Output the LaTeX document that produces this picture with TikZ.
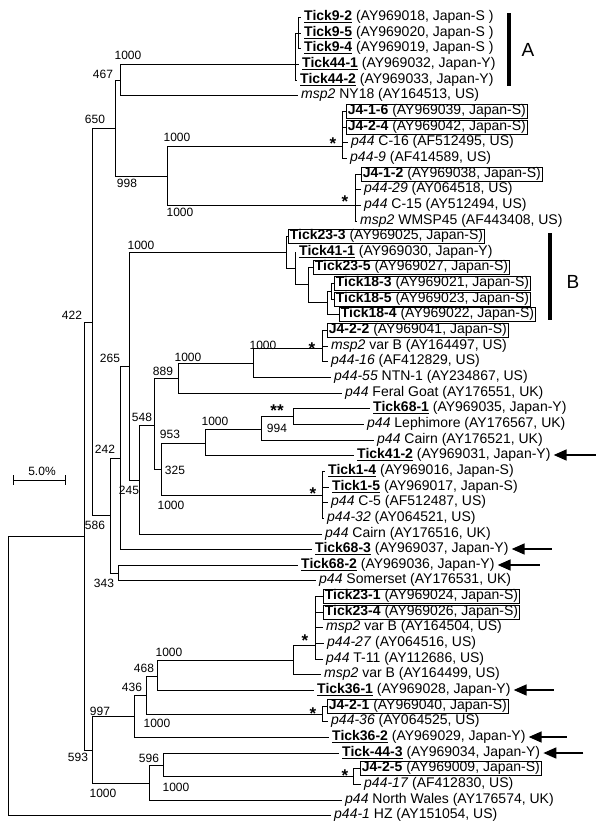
\documentclass[tikz,border=0pt]{standalone}
\usepackage{fontspec}
\setmainfont{Liberation Sans}
\usetikzlibrary{calc,arrows.meta}
\newcommand{\tk}[1]{\textbf{\underline{#1}}}
\tikzset{
  tip/.style={anchor=west,inner xsep=3pt,inner ysep=0pt,text height=10pt,text depth=3pt,font=\fontsize{14}{14}\selectfont},
  boxtip/.style={tip,draw,line width=0.8pt,inner xsep=1.5pt,inner ysep=0.5pt},
  boot/.style={inner sep=0pt,font=\fontsize{12}{12}\selectfont},
  star/.style={inner sep=0pt,font=\fontsize{17}{17}\selectfont\bfseries},
  branch/.style={line width=0.8pt},
  pointer/.style={line width=1.6pt,-{Triangle[length=13pt,width=11pt]}},
  cladebar/.style={line width=4pt},
  cladelabel/.style={inner sep=0pt,font=\fontsize{19}{19}\selectfont},
}

\begin{document}
\begin{tikzpicture}[x=1pt,y=-1pt]
        \useasboundingbox (0,0) rectangle (600,830);
        % tips
        \node[tip] (t1) at (301,17) {\tk{Tick9-2} (AY969018, Japan-S )};
        \node[tip] (t2) at (301,33) {\tk{Tick9-5} (AY969020, Japan-S )};
        \node[tip] (t3) at (301,48) {\tk{Tick9-4} (AY969019, Japan-S )};
        \node[tip] (t4) at (299,64) {\tk{Tick44-1} (AY969032, Japan-Y)};
        \node[tip] (t5) at (297,80) {\tk{Tick44-2} (AY969033, Japan-Y)};
        \node[tip] (t6) at (298,95) {\textit{msp2} NY18 (AY164513, US)};
        \node[boxtip] (t7) at (346,111) {\textbf{J4-1-6} (AY969039, Japan-S)};
        \node[boxtip] (t8) at (346,127) {\textbf{J4-2-4} (AY969042, Japan-S)};
        \node[tip] (t9) at (348,142) {\textit{p44} C-16 (AF512495, US)};
        \node[tip] (t10) at (347,158) {\textit{p44-9} (AF414589, US)};
        \node[boxtip] (t11) at (361,174) {\textbf{J4-1-2} (AY969038, Japan-S)};
        \node[tip] (t12) at (361,189) {\textit{p44-29} (AY064518, US)};
        \node[tip] (t13) at (361,205) {\textit{p44} C-15 (AY512494, US)};
        \node[tip] (t14) at (357,221) {\textit{msp2} WMSP45 (AF443408, US)};
        \node[boxtip] (t15) at (288,236) {\textbf{Tick23-3} (AY969025, Japan-S)};
        \node[tip] (t16) at (296,252) {\tk{Tick41-1} (AY969030, Japan-Y)};
        \node[boxtip] (t17) at (313,267) {\textbf{Tick23-5} (AY969027, Japan-S)};
        \node[boxtip] (t18) at (334,283) {\textbf{Tick18-3} (AY969021, Japan-S)};
        \node[boxtip] (t19) at (334,299) {\textbf{Tick18-5} (AY969023, Japan-S)};
        \node[boxtip] (t20) at (339,314) {\textbf{Tick18-4} (AY969022, Japan-S)};
        \node[boxtip] (t21) at (327,330) {\textbf{J4-2-2} (AY969041, Japan-S)};
        \node[tip] (t22) at (328,346) {\textit{msp2} var B (AY164497, US)};
        \node[tip] (t23) at (328,361) {\textit{p44-16} (AF412829, US)};
        \node[tip] (t24) at (331,377) {\textit{p44-55} NTN-1 (AY234867, US)};
        \node[tip] (t25) at (342,393) {\textit{p44} Feral Goat (AY176551, UK)};
        \node[tip] (t26) at (370,408) {\tk{Tick68-1} (AY969035, Japan-Y)};
        \node[tip] (t27) at (364,424) {\textit{p44} Lephimore (AY176567, UK)};
        \node[tip] (t28) at (374,440) {\textit{p44} Cairn (AY176521, UK)};
        \node[tip] (t29) at (354,455) {\tk{Tick41-2} (AY969031, Japan-Y)};
        \node[tip] (t30) at (325,471) {\tk{Tick1-4} (AY969016, Japan-S)};
        \node[tip] (t31) at (329,487) {\tk{Tick1-5} (AY969017, Japan-S)};
        \node[tip] (t32) at (328,502) {\textit{p44} C-5 (AF512487, US)};
        \node[tip] (t33) at (324,518) {\textit{p44-32} (AY064521, US)};
        \node[tip] (t34) at (322,534) {\textit{p44} Cairn (AY176516, UK)};
        \node[tip] (t35) at (312,549) {\tk{Tick68-3} (AY969037, Japan-Y)};
        \node[tip] (t36) at (298,565) {\tk{Tick68-2} (AY969036, Japan-Y)};
        \node[tip] (t37) at (316,580) {\textit{p44} Somerset (AY176531, UK)};
        \node[boxtip] (t38) at (323,596) {\textbf{Tick23-1} (AY969024, Japan-S)};
        \node[boxtip] (t39) at (323,612) {\textbf{Tick23-4} (AY969026, Japan-S)};
        \node[tip] (t40) at (323,627) {\textit{msp2} var B (AY164504, US)};
        \node[tip] (t41) at (324,643) {\textit{p44-27} (AY064516, US)};
        \node[tip] (t42) at (323,659) {\textit{p44} T-11 (AY112686, US)};
        \node[tip] (t43) at (321,674) {\textit{msp2} var B (AY164499, US)};
        \node[tip] (t44) at (314,690) {\tk{Tick36-1} (AY969028, Japan-Y)};
        \node[boxtip] (t45) at (327,706) {\textbf{J4-2-1} (AY969040, Japan-S)};
        \node[tip] (t46) at (328,721) {\textit{p44-36} (AY064525, US)};
        \node[tip] (t47) at (329,737) {\tk{Tick36-2} (AY969029, Japan-Y)};
        \node[tip] (t48) at (339,753) {\tk{Tick-44-3} (AY969034, Japan-Y)};
        \node[boxtip] (t49) at (360,768) {\textbf{J4-2-5} (AY969009, Japan-S)};
        \node[tip] (t50) at (361,784) {\textit{p44-17} (AF412830, US)};
        \node[tip] (t51) at (342,800) {\textit{p44} North Wales (AY176574, UK)};
        \node[tip] (t52) at (331,815) {\textit{p44-1} HZ (AY151054, US)};
        % inner nodes
        \coordinate (root) at (8,676);
        \coordinate (ingroup) at (84,536);
        \coordinate (n422) at (92,322);
        \coordinate (n650) at (115,128);
        \coordinate (n467) at (120,80);
        \coordinate (cA) at (295,64);
        \coordinate (cA9) at (298,33);
        \coordinate (n998) at (167,176);
        \coordinate (cJ1) at (342,146);
        \coordinate (cJ2) at (355,205);
        \coordinate (n586) at (110,515);
        \coordinate (n242) at (120,458);
        \coordinate (n265) at (129,366);
        \coordinate (cB0) at (286,252);
        \coordinate (cB1) at (295,268);
        \coordinate (cB2) at (308,284);
        \coordinate (cB3) at (327,302);
        \coordinate (cB4) at (331,291);
        \coordinate (n245) at (139,480);
        \coordinate (n548) at (154,425);
        \coordinate (n889) at (178,378);
        \coordinate (n1000c) at (253,363);
        \coordinate (cJ3) at (322,348);
        \coordinate (n325) at (161,469);
        \coordinate (n953) at (205,443);
        \coordinate (n1000d) at (261,429);
        \coordinate (n994) at (293,416);
        \coordinate (cT1) at (322,495);
        \coordinate (n343) at (118,573);
        \coordinate (n593) at (92,750);
        \coordinate (n997) at (134,716);
        \coordinate (n436) at (146,695);
        \coordinate (n468) at (157,676);
        \coordinate (n1000e) at (293,660);
        \coordinate (cT23) at (315,645);
        \coordinate (cJ4) at (322,714);
        \coordinate (n1000f) at (149,783);
        \coordinate (n596) at (163,765);
        \coordinate (cJ5) at (353,776);
        % branches
        \draw[branch] (root) |- (ingroup) (root) |- (t52.west);
        \draw[branch] (ingroup) |- (n422) (ingroup) |- (n593);
        \draw[branch] (n422) |- (n650) (n422) |- (n586);
        \draw[branch] (n650) |- (n467) (n650) |- (n998);
        \draw[branch] (n467) |- (cA) (n467) |- (t6.west);
        \draw[branch] (cA) |- (cA9) (cA) |- (t4.west) (cA) |- (t5.west);
        \draw[branch] (cA9) |- (t1.west) (cA9) |- (t2.west) (cA9) |- (t3.west);
        \draw[branch] (n998) |- (cJ1) (n998) |- (cJ2);
        \draw[branch] (cJ1) |- (t7.west) (cJ1) |- (t8.west) (cJ1) |- (t9.west) (cJ1) |- (t10.west);
        \draw[branch] (cJ2) |- (t11.west) (cJ2) |- (t12.west) (cJ2) |- (t13.west) (cJ2) |- (t14.west);
        \draw[branch] (n586) |- (n242) (n586) |- (n343);
        \draw[branch] (n242) |- (n265) (n242) |- (t35.west);
        \draw[branch] (n265) |- (cB0) (n265) |- (n245);
        \draw[branch] (cB0) |- (t15.west) (cB0) |- (cB1);
        \draw[branch] (cB1) |- (t16.west) (cB1) |- (cB2);
        \draw[branch] (cB2) |- (t17.west) (cB2) |- (cB3);
        \draw[branch] (cB3) |- (cB4) (cB3) |- (t20.west);
        \draw[branch] (cB4) |- (t18.west) (cB4) |- (t19.west);
        \draw[branch] (n245) |- (n548) (n245) |- (t34.west);
        \draw[branch] (n548) |- (n889) (n548) |- (n325);
        \draw[branch] (n889) |- (n1000c) (n889) |- (t25.west);
        \draw[branch] (n1000c) |- (cJ3) (n1000c) |- (t24.west);
        \draw[branch] (cJ3) |- (t21.west) (cJ3) |- (t22.west) (cJ3) |- (t23.west);
        \draw[branch] (n325) |- (n953) (n325) |- (cT1);
        \draw[branch] (n953) |- (n1000d) (n953) |- (t29.west);
        \draw[branch] (n1000d) |- (n994) (n1000d) |- (t28.west);
        \draw[branch] (n994) |- (t26.west) (n994) |- (t27.west);
        \draw[branch] (cT1) |- (t30.west) (cT1) |- (t31.west) (cT1) |- (t32.west) (cT1) |- (t33.west);
        \draw[branch] (n343) |- (t36.west) (n343) |- (t37.west);
        \draw[branch] (n593) |- (n997) (n593) |- (n1000f);
        \draw[branch] (n997) |- (n436) (n997) |- (t47.west);
        \draw[branch] (n436) |- (n468) (n436) |- (cJ4);
        \draw[branch] (n468) |- (n1000e) (n468) |- (t44.west);
        \draw[branch] (n1000e) |- (cT23) (n1000e) |- (t43.west);
        \draw[branch] (cT23) |- (t38.west) (cT23) |- (t39.west) (cT23) |- (t40.west) (cT23) |- (t41.west) (cT23) |- (t42.west);
        \draw[branch] (cJ4) |- (t45.west) (cJ4) |- (t46.west);
        \draw[branch] (n1000f) |- (n596) (n1000f) |- (t51.west);
        \draw[branch] (n596) |- (t48.west) (n596) |- (cJ5);
        \draw[branch] (cJ5) |- (t49.west) (cJ5) |- (t50.west);
        % bootstrap values
        \node[boot] (b1) at (128,55) {1000};
        \node[boot] (b2) at (103,74) {467};
        \node[boot] (b3) at (95,119) {650};
        \node[boot] (b4) at (127,183) {998};
        \node[boot] (b5) at (177,137) {1000};
        \node[boot] (b6) at (180,212) {1000};
        \node[boot] (b7) at (141,245) {1000};
        \node[boot] (b8) at (72,315) {422};
        \node[boot] (b9) at (110,358) {265};
        \node[boot] (b10) at (163,371) {889};
        \node[boot] (b11) at (188,357) {1000};
        \node[boot] (b12) at (263,345) {1000};
        \node[boot] (b13) at (142,417) {548};
        \node[boot] (b14) at (170,434) {953};
        \node[boot] (b15) at (215,421) {1000};
        \node[boot] (b16) at (277,428) {994};
        \node[boot] (b17) at (175,470) {325};
        \node[boot] (b18) at (171,505) {1000};
        \node[boot] (b19) at (105,449) {242};
        \node[boot] (b20) at (129,490) {245};
        \node[boot] (b21) at (95,525) {586};
        \node[boot] (b22) at (104,583) {343};
        \node[boot] (b23) at (169,652) {1000};
        \node[boot] (b24) at (144,668) {468};
        \node[boot] (b25) at (132,687) {436};
        \node[boot] (b26) at (100,711) {997};
        \node[boot] (b27) at (157,723) {1000};
        \node[boot] (b28) at (78,757) {593};
        \node[boot] (b29) at (149,758) {596};
        \node[boot] (b30) at (176,787) {1000};
        \node[boot] (b31) at (103,793) {1000};
        % stars
        \node[star] (s1) at (333,144) {*};
        \node[star] (s2) at (345,202) {*};
        \node[star] (s3) at (312,349) {*};
        \node[star] (s4) at (277,411) {**};
        \node[star] (s5) at (313,494) {*};
        \node[star] (s6) at (305,641) {*};
        \node[star] (s7) at (313,714) {*};
        \node[star] (s8) at (345,776) {*};
        % clades A and B
        \coordinate (barA1) at (509,13);
        \coordinate (barA2) at (509,86);
        \draw[cladebar] (barA1) -- (barA2);
        \node[cladelabel] (labA) at (528,50) {A};
        \coordinate (barB1) at (550,233);
        \coordinate (barB2) at (550,320);
        \draw[cladebar] (barB1) -- (barB2);
        \node[cladelabel] (labB) at (573,282) {B};
        % arrows
        \coordinate (a29) at ($(t29.east)+(42,0)$);
        \coordinate (a35) at ($(t35.east)+(40,0)$);
        \coordinate (a36) at ($(t36.east)+(42,0)$);
        \coordinate (a44) at ($(t44.east)+(40,0)$);
        \coordinate (a47) at ($(t47.east)+(38,0)$);
        \coordinate (a48) at ($(t48.east)+(40,0)$);
        \draw[pointer] (a29) -- (t29.east);
        \draw[pointer] (a35) -- (t35.east);
        \draw[pointer] (a36) -- (t36.east);
        \draw[pointer] (a44) -- (t44.east);
        \draw[pointer] (a47) -- (t47.east);
        \draw[pointer] (a48) -- (t48.east);
        % scale
        \coordinate (sc1) at (13,480);
        \coordinate (sc2) at (65,480);
        \draw[branch] (sc1) -- (sc2);
        \draw[branch] ($(sc1)+(0,-5)$) -- ($(sc1)+(0,5)$);
        \draw[branch] ($(sc2)+(0,-5)$) -- ($(sc2)+(0,5)$);
        \node[boot] (scl) at (42,471) {5.0\%};
    \end{tikzpicture}
\end{document}
